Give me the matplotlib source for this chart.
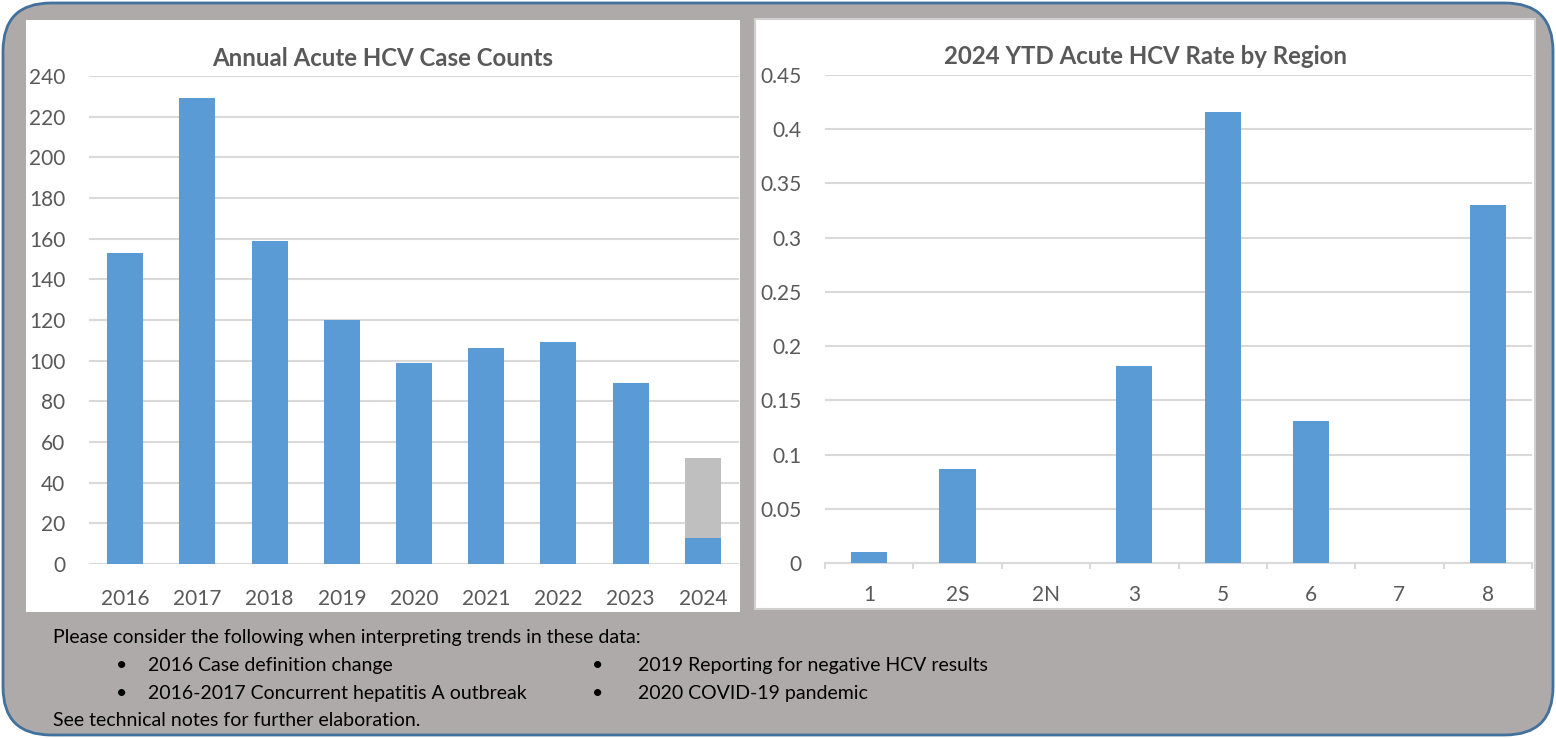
import matplotlib
matplotlib.use('Agg')
import matplotlib.pyplot as plt
from matplotlib.patches import FancyBboxPatch, Rectangle

plt.rcParams['font.family'] = ['Lato', 'DejaVu Sans']

# Dados - casos anuais
anos = ['2016', '2017', '2018', '2019', '2020', '2021', '2022', '2023', '2024']
casos_confirmados = [153, 229, 159, 120, 99, 106, 109, 89, 13]
casos_pendentes = [0, 0, 0, 0, 0, 0, 0, 0, 39]

# Dados - taxa por região 2024
regioes = ['1', '2S', '2N', '3', '5', '6', '7', '8']
taxas = [0.010, 0.087, 0, 0.182, 0.416, 0.131, 0, 0.330]

notas_col1 = ['2016 Case definition change', '2016-2017 Concurrent hepatitis A outbreak']
notas_col2 = ['2019 Reporting for negative HCV results', '2020 COVID-19 pandemic']

W, H = 1556, 738
AZUL = '#5B9BD5'
CINZA = '#BFBFBF'
GRADE = '#D9D9D9'
TEXTO = '#595959'

fig = plt.figure(figsize=(W / 100, H / 100), dpi=100, facecolor='white')

# fundo com cantos arredondados (coordenadas em pixels)
bg = fig.add_axes([0, 0, 1, 1])
bg.set_xlim(0, W)
bg.set_ylim(H, 0)
bg.axis('off')
bg.add_patch(FancyBboxPatch((3, 3), W - 6, H - 6, boxstyle='round,pad=0,rounding_size=48',
                            facecolor='#AEAAAA', edgecolor='#41719C', linewidth=2))
bg.add_patch(Rectangle((26, 20), 714, 592, facecolor='white', edgecolor='none'))
bg.add_patch(Rectangle((755, 19), 780, 590, facecolor='white', edgecolor='#D0D0D0', linewidth=1.5))


def px_axes(x0, y0, x1, y1):
    return fig.add_axes([x0 / W, 1 - y1 / H, (x1 - x0) / W, (y1 - y0) / H])


# Gráfico 1: casos anuais
ax1 = px_axes(89, 76, 739, 564)
ax1.bar(anos, casos_confirmados, width=0.5, color=AZUL, zorder=3)
ax1.bar(anos, casos_pendentes, width=0.5, bottom=casos_confirmados, color=CINZA, zorder=3)
ax1.set_xlim(-0.5, 8.5)
ax1.set_ylim(0, 240)
ax1.set_yticks(range(0, 241, 20))
ax1.grid(axis='y', color=GRADE, linewidth=1.5, zorder=0)
for s in ax1.spines.values():
    s.set_visible(False)
ax1.tick_params(axis='y', length=0, pad=17, labelsize=15, labelcolor=TEXTO)
ax1.tick_params(axis='x', length=0, pad=18, labelsize=15, labelcolor=TEXTO)
fig.text(383 / W, 1 - 58 / H, 'Annual Acute HCV Case Counts', ha='center', va='center',
         fontsize=17.3, fontweight='bold', color=TEXTO)

# Gráfico 2: taxa por região
ax2 = px_axes(825, 75, 1532, 563)
ax2.bar(regioes, taxas, width=0.41, color=AZUL, zorder=3)
ax2.set_xlim(-0.5, 7.5)
ax2.set_ylim(0, 0.45)
ax2.set_yticks([0, 0.05, 0.1, 0.15, 0.2, 0.25, 0.3, 0.35, 0.4, 0.45])
ax2.set_yticklabels(['0', '0.05', '0.1', '0.15', '0.2', '0.25', '0.3', '0.35', '0.4', '0.45'])
ax2.grid(axis='y', color=GRADE, linewidth=1.5, zorder=0)
for k in ['top', 'right', 'left']:
    ax2.spines[k].set_visible(False)
ax2.spines['bottom'].set_color(GRADE)
ax2.spines['bottom'].set_linewidth(1.5)
ax2.set_xticks([i - 0.5 for i in range(len(regioes) + 1)], minor=True)
ax2.tick_params(axis='x', which='minor', length=4.5, width=1.5, color=GRADE)
ax2.tick_params(axis='x', which='major', length=0, pad=16, labelsize=15, labelcolor=TEXTO)
ax2.tick_params(axis='y', length=0, pad=17, labelsize=15, labelcolor=TEXTO)
fig.text(1145 / W, 1 - 57 / H, '2024 YTD Acute HCV Rate by Region', ha='center', va='center',
         fontsize=17.3, fontweight='bold', color=TEXTO)

# Notas
fs = 14
bg.text(53, 637, 'Please consider the following when interpreting trends in these data:',
        fontsize=fs, va='center', ha='left', color='black')
for i, t in enumerate(notas_col1):
    y = 665 + 28 * i
    bg.text(116, y, '•', fontsize=fs, va='center', ha='left', color='black')
    bg.text(148, y, t, fontsize=fs, va='center', ha='left', color='black')
for i, t in enumerate(notas_col2):
    y = 665 + 28 * i
    bg.text(592, y, '•', fontsize=fs, va='center', ha='left', color='black')
    bg.text(638, y, t, fontsize=fs, va='center', ha='left', color='black')
bg.text(53, 720, 'See technical notes for further elaboration.',
        fontsize=fs, va='center', ha='left', color='black')

fig.savefig('out.png', dpi=100, facecolor='white')
